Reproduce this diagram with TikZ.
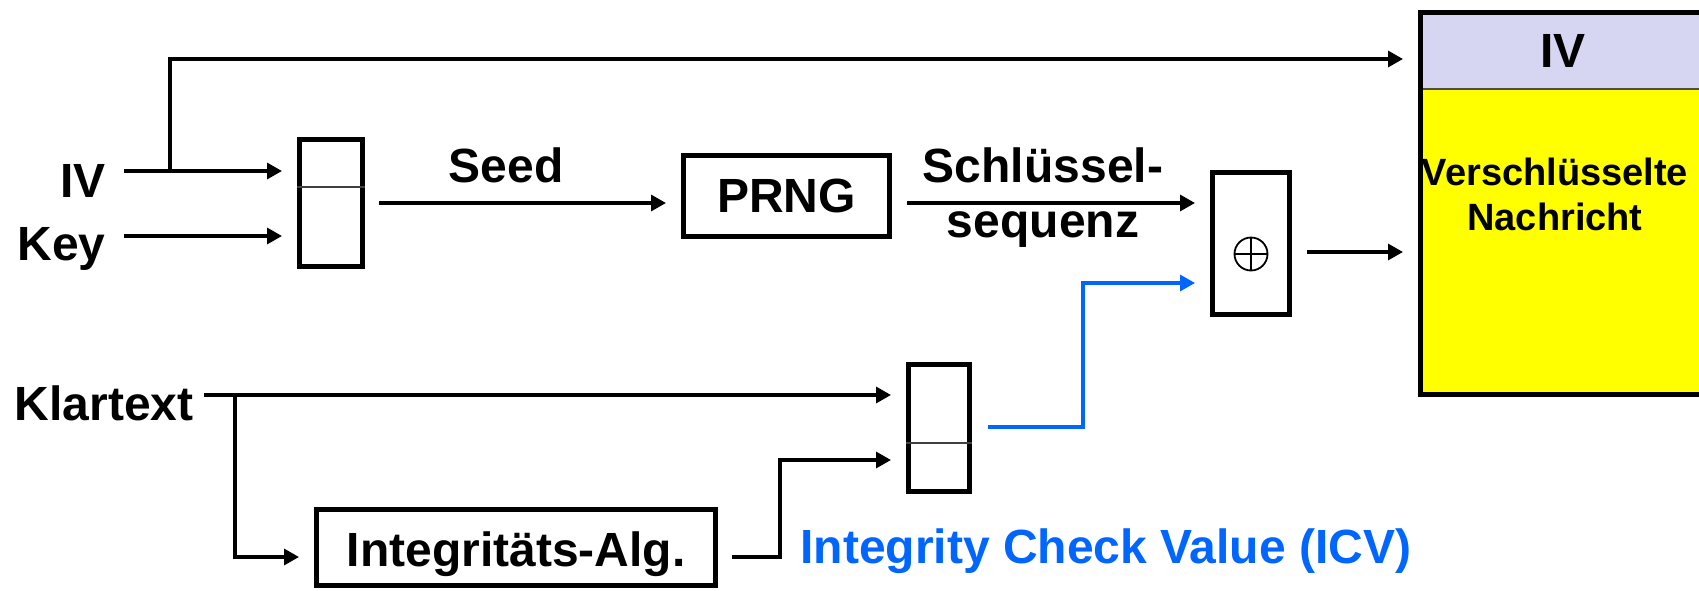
\documentclass[tikz,border=0pt]{standalone}
\usepackage{fontspec}
\setmainfont{Liberation Sans}
\usetikzlibrary{arrows.meta}
\definecolor{icvblue}{RGB}{0,102,255}
\definecolor{hdrlav}{RGB}{214,214,242}
\definecolor{msgyel}{RGB}{255,255,0}
\begin{document}
\begin{tikzpicture}[x=0.5pt,y=-0.5pt,
  lbl/.style={font=\fontsize{24}{28}\selectfont\bfseries, inner sep=0pt},
  msgtxt/.style={font=\fontsize{19}{23}\selectfont\bfseries, inner sep=0pt},
  blockbox/.style={draw, line width=2.5pt, inner sep=0pt},
  arr/.style={line width=1.65pt, -{Triangle[length=7.5pt,width=8pt]}, shorten >=7.5pt},
  divline/.style={line width=1pt, black!75}]
\clip (0,0) rectangle (1699,590);
\fill[white] (0,0) rectangle (1699,590);

% coordinates for free ends and levels
\coordinate (ivs) at (124,171);
\coordinate (keys) at (124,236);
\coordinate (jiv) at (170,171);
\coordinate (ytop) at (0,59);
\coordinate (ysd) at (0,203);
\coordinate (yxo) at (0,252);
\coordinate (ks) at (204,395);
\coordinate (kj) at (235,395);
\coordinate (yint) at (0,557);
\coordinate (yr2b) at (0,460);
\coordinate (yblue) at (0,427);
\coordinate (yxb) at (0,283);
\coordinate (xbend) at (780,0);
\coordinate (xblue) at (1083,0);
\coordinate (yd1) at (0,187);
\coordinate (yd2) at (0,443);

% blocks
\node[blockbox, minimum width=31.5pt, minimum height=63.5pt] (reg1) at (331,203) {};
\node[blockbox, minimum width=103pt, minimum height=40.5pt, lbl] (prng) at (786.5,196) {PRNG};
\node[blockbox, minimum width=38.5pt, minimum height=71pt] (xor) at (1251,243.5) {};
\node[blockbox, minimum width=30.5pt, minimum height=63.5pt] (reg2) at (939,428) {};
\node[blockbox, minimum width=199.5pt, minimum height=38pt] (integ) at (516,547.5) {};
\node[lbl, anchor=base] (integl) at (516,566) {Integritäts-Alg.};

\draw[divline] (yd1 -| reg1.west) -- (yd1 -| reg1.east);
\draw[divline] (yd2 -| reg2.west) -- (yd2 -| reg2.east);

% xor symbol
\node[draw, circle, line width=0.9pt, minimum size=16.5pt, inner sep=0pt] (oplus) at (1251,254) {};
\draw[line width=0.9pt] (oplus.north) -- (oplus.south);
\draw[line width=0.9pt] (oplus.west) -- (oplus.east);

% message box
\node[draw, line width=2.5pt, fill=msgyel, anchor=north west, inner sep=0pt,
      minimum width=143.5pt, minimum height=191pt,
      path picture={
        \fill[hdrlav] (path picture bounding box.north west) rectangle ([yshift=-38.25pt]path picture bounding box.north east);
        \draw[line width=1pt, black!70] ([yshift=-38.25pt]path picture bounding box.north west) -- ([yshift=-38.25pt]path picture bounding box.north east);
      }] (msg) at (1418,10) {};
\node[lbl, anchor=base] (msgiv) at (1563,67) {IV};
\node[msgtxt, anchor=base] (msgt1) at (1555,185) {Verschlüsselte};
\node[msgtxt, anchor=base] (msgt2) at (1555,230) {Nachricht};

% labels
\node[lbl, anchor=base east] (ivl) at (106,197) {IV};
\node[lbl, anchor=base east] (keyl) at (106,260) {Key};
\node[lbl, anchor=base east] (klar) at (194,420) {Klartext};
\node[lbl, anchor=base] (seedl) at (506,182) {Seed};
\node[lbl, anchor=base] (schl1) at (1043,182) {Schlüssel-};
\node[lbl, anchor=base] (schl2) at (1043,237) {sequenz};
\node[lbl, anchor=base west, text=icvblue] (icv) at (800,563) {Integrity Check Value (ICV)};

% connectors
\draw[arr] (ivs) -- (ivs -| reg1.west);
\draw[arr] (keys) -- (keys -| reg1.west);
\draw[arr] (jiv) |- (ytop -| msg.west);
\draw[arr, shorten <=7pt] (ysd -| reg1.east) -- (ysd -| prng.west);
\draw[arr, shorten <=7.5pt] (ysd -| prng.east) -- (ysd -| xor.west);
\draw[arr, shorten <=7.5pt] (yxo -| xor.east) -- (yxo -| msg.west);
\draw[arr] (ks) -- (ks -| reg2.west);
\draw[arr] (kj) |- (yint -| integ.west);
\draw[arr, shorten <=7pt] (yint -| integ.east) -- (xbend |- yint) -- (xbend |- yr2b) -- (yr2b -| reg2.west);
\draw[arr, icvblue, shorten <=8pt] (yblue -| reg2.east) -- (xblue |- yblue) -- (xblue |- yxb) -- (yxb -| xor.west);
\end{tikzpicture}
\end{document}
